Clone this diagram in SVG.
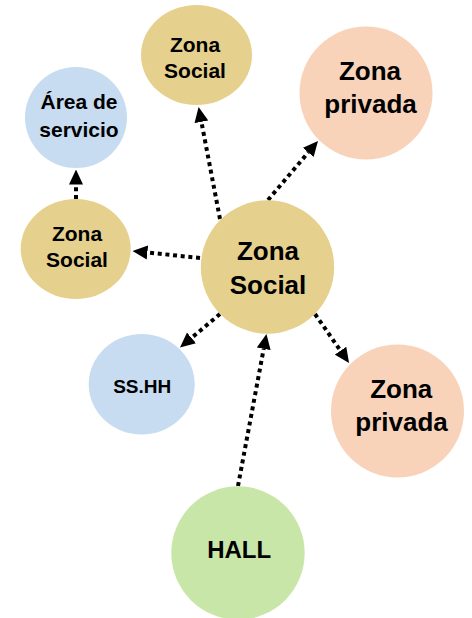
<svg xmlns="http://www.w3.org/2000/svg" width="472" height="618" viewBox="0 0 472 618">
<defs>
<style>
.tan{fill:#E5D08D}
.blue{fill:#C7DCF0}
.peach{fill:#F8D3B9}
.green{fill:#C9E6A9}
text{font-family:"Liberation Sans",Arial,sans-serif;font-weight:bold;fill:#000;text-anchor:middle}
.l{font-size:26px}
.s{font-size:21px}
.c{fill:none;stroke:#000;stroke-width:4;stroke-dasharray:4 3.7;marker-end:url(#ah)}
</style>
<marker id="ah" markerUnits="userSpaceOnUse" markerWidth="15" markerHeight="15" viewBox="0 0 15 15" refX="0" refY="7.5" orient="auto">
<path d="M0,0.5 L15,7.5 L0,14.5 z" fill="#000"/>
</marker>
</defs>
<rect width="472" height="618" fill="#fff"/>
<g id="connectors">
<line class="c" x1="220" y1="219" x2="201.4" y2="121.8"/>
<line class="c" x1="268" y1="200" x2="308.3" y2="152.4"/>
<line class="c" x1="200" y1="258" x2="147.4" y2="252.5"/>
<line class="c" x1="220" y1="314" x2="191.5" y2="337.9"/>
<line class="c" x1="315" y1="314" x2="340.5" y2="350.7"/>
<line class="c" x1="238" y1="486" x2="263.7" y2="348.8"/>
<line class="c" x1="76" y1="199" x2="76" y2="184.5"/>
</g>
<g id="zona-social-central">
<circle class="tan" cx="267.5" cy="267" r="66.7"/>
<text class="l" x="268" y="259.5">Zona</text>
<text class="l" x="268" y="293.5">Social</text>
</g>
<g id="zona-social-top">
<ellipse class="tan" cx="196.5" cy="55" rx="55.5" ry="50"/>
<text class="s" x="195" y="51.7">Zona</text>
<text class="s" x="195" y="77.7">Social</text>
</g>
<g id="area-servicio">
<ellipse class="blue" cx="76" cy="117.5" rx="51" ry="50.5"/>
<text class="s" x="79" y="109">Área de</text>
<text class="s" x="79" y="136.5">servicio</text>
</g>
<g id="zona-privada-top">
<circle class="peach" cx="366" cy="93" r="66.5"/>
<text class="l" x="370" y="80">Zona</text>
<text class="l" x="370.5" y="113">privada</text>
</g>
<g id="zona-social-left">
<ellipse class="tan" cx="75.7" cy="249" rx="55" ry="50"/>
<text class="s" x="77" y="241">Zona</text>
<text class="s" x="77" y="267.3">Social</text>
</g>
<g id="sshh">
<ellipse class="blue" cx="141.7" cy="384.3" rx="53" ry="50.3"/>
<text class="s" x="142.2" y="393.3" style="font-size:19px">SS.HH</text>
</g>
<g id="zona-privada-bottom">
<circle class="peach" cx="397.5" cy="411" r="66.5"/>
<text class="l" x="401.2" y="398.3">Zona</text>
<text class="l" x="401.5" y="430.7">privada</text>
</g>
<g id="hall">
<circle class="green" cx="238" cy="553" r="66.7"/>
<text class="l" x="239.2" y="558.3" style="font-size:24px">HALL</text>
</g>
</svg>
